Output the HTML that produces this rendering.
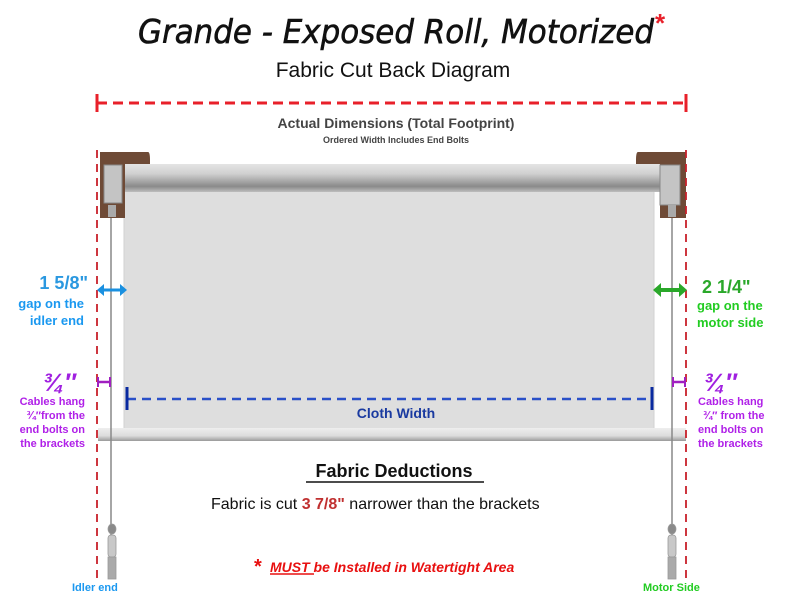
<!DOCTYPE html>
<html><head><meta charset="utf-8"><style>
html,body{margin:0;padding:0;background:#fff;}
svg{display:block;}
text{font-family:"Liberation Sans",Arial,sans-serif;}
</style></head><body>
<svg width="792" height="615" viewBox="0 0 792 615" xmlns="http://www.w3.org/2000/svg">
<defs>
<linearGradient id="roll" x1="0" y1="0" x2="0" y2="1">
<stop offset="0" stop-color="#e4e4e4"/><stop offset="0.35" stop-color="#d0d0d0"/><stop offset="0.8" stop-color="#8a8a8a"/><stop offset="1" stop-color="#bdbdbd"/>
</linearGradient>
<linearGradient id="bar" x1="0" y1="0" x2="0" y2="1">
<stop offset="0" stop-color="#eeeeee"/><stop offset="0.6" stop-color="#dcdcdc"/><stop offset="1" stop-color="#9a9a9a"/>
</linearGradient>
</defs>
<text x="396" y="43" text-anchor="middle" font-size="33" font-style="italic" fill="#111" stroke="#111" stroke-width="0.6" style="font-family:'DejaVu Sans',sans-serif" textLength="516" lengthAdjust="spacingAndGlyphs">Grande - Exposed Roll, Motorized</text>
<text x="655" y="32" font-size="26" fill="#e8202a" font-weight="bold">*</text>
<text x="393" y="77" text-anchor="middle" font-size="21" fill="#111">Fabric Cut Back Diagram</text>
<line x1="97" y1="103" x2="686" y2="103" stroke="#e8202a" stroke-width="3" stroke-dasharray="10,6"/>
<line x1="97" y1="94" x2="97" y2="112" stroke="#e8202a" stroke-width="3"/>
<line x1="686" y1="94" x2="686" y2="112" stroke="#e8202a" stroke-width="3"/>
<text x="396" y="128" text-anchor="middle" font-size="14" font-weight="bold" fill="#444">Actual Dimensions (Total Footprint)</text>
<text x="396" y="143" text-anchor="middle" font-size="9" font-weight="bold" fill="#444">Ordered Width Includes End Bolts</text>
<rect x="124" y="180" width="530" height="252" fill="#dedede"/>
<rect x="124" y="180" width="530" height="252" fill="none" stroke="#d2d2d2"/>
<rect x="118" y="164" width="546" height="28" fill="url(#roll)"/>
<rect x="98" y="428" width="588" height="13" fill="url(#bar)"/>
<line x1="111" y1="215" x2="111" y2="548" stroke="#888" stroke-width="1.5"/>
<line x1="672" y1="215" x2="672" y2="548" stroke="#888" stroke-width="1.5"/>
<g fill="#c8c8c8" stroke="#999" stroke-width="0.8">
<ellipse cx="112" cy="529" rx="4" ry="5" fill="#8a8a8a"/>
<rect x="108" y="535" width="8" height="22" rx="3"/>
<rect x="108" y="557" width="8" height="22" fill="#aaa"/>
<ellipse cx="672" cy="529" rx="4" ry="5" fill="#8a8a8a"/>
<rect x="668" y="535" width="8" height="22" rx="3"/>
<rect x="668" y="557" width="8" height="22" fill="#aaa"/>
</g>
<path d="M100 152 H148 Q150 152 150 160 V164 H125 V218 H100 Z" fill="#6e4a36"/>
<rect x="104" y="165" width="18" height="38" fill="#c4c4c4" stroke="#888"/>
<rect x="108" y="205" width="8" height="12" fill="#aaa"/>
<path d="M638 152 H686 V218 H660 V164 H636 V160 Q636 152 638 152 Z" fill="#6e4a36"/>
<rect x="660" y="165" width="20" height="40" fill="#c4c4c4" stroke="#888"/>
<rect x="668" y="205" width="8" height="12" fill="#aaa"/>
<line x1="97" y1="150" x2="97" y2="580" stroke="#c8202a" stroke-width="1.8" stroke-dasharray="8,6"/>
<line x1="686" y1="150" x2="686" y2="580" stroke="#c8202a" stroke-width="1.8" stroke-dasharray="8,6"/>
<line x1="100" y1="290" x2="124" y2="290" stroke="#1a90e0" stroke-width="3"/>
<path d="M97 290 l7 -6 v12 z M127 290 l-7 -6 v12 z" fill="#1a90e0"/>
<line x1="656" y1="290" x2="684" y2="290" stroke="#2aa82a" stroke-width="4"/>
<path d="M653 290 l8 -7 v14 z M687 290 l-8 -7 v14 z" fill="#2aa82a"/>
<line x1="98" y1="382" x2="110" y2="382" stroke="#a020c0" stroke-width="2.5"/>
<line x1="98" y1="377" x2="98" y2="387" stroke="#a020c0" stroke-width="2"/>
<line x1="110" y1="377" x2="110" y2="387" stroke="#a020c0" stroke-width="2"/>
<line x1="673" y1="382" x2="685" y2="382" stroke="#a020c0" stroke-width="2.5"/>
<line x1="673" y1="377" x2="673" y2="387" stroke="#a020c0" stroke-width="2"/>
<line x1="685" y1="377" x2="685" y2="387" stroke="#a020c0" stroke-width="2"/>
<line x1="127" y1="399" x2="652" y2="399" stroke="#2a50c8" stroke-width="2.5" stroke-dasharray="9,6"/>
<line x1="127" y1="387" x2="127" y2="410" stroke="#0a2aa0" stroke-width="3"/>
<line x1="652" y1="387" x2="652" y2="410" stroke="#0a2aa0" stroke-width="3"/>
<text x="396" y="418" text-anchor="middle" font-size="14" font-weight="bold" fill="#1a3aa0">Cloth Width</text>
<text x="88" y="289" text-anchor="end" font-size="18" font-weight="bold" fill="#2a98e0">1 5/8"</text>
<text x="84" y="308" text-anchor="end" font-size="13" font-weight="bold" fill="#1a98f0">gap on the</text>
<text x="84" y="325" text-anchor="end" font-size="13" font-weight="bold" fill="#1a98f0">idler end</text>
<text x="76" y="391" text-anchor="end" font-size="25" font-weight="bold" font-style="italic" fill="#a020e0">¾″</text>
<text x="85" y="405" text-anchor="end" font-size="11" font-weight="bold" fill="#b020e8">Cables hang</text>
<text x="85" y="419" text-anchor="end" font-size="11" font-weight="bold" fill="#b020e8">¾″from the</text>
<text x="85" y="433" text-anchor="end" font-size="11" font-weight="bold" fill="#b020e8">end bolts on</text>
<text x="85" y="447" text-anchor="end" font-size="11" font-weight="bold" fill="#b020e8">the brackets</text>
<text x="702" y="293" font-size="18" font-weight="bold" fill="#2aa82a">2 1/4"</text>
<text x="697" y="310" font-size="13" font-weight="bold" fill="#22cc22">gap on the</text>
<text x="697" y="327" font-size="13" font-weight="bold" fill="#22cc22">motor side</text>
<text x="704" y="391" font-size="25" font-weight="bold" font-style="italic" fill="#a020e0">¾″</text>
<text x="698" y="405" font-size="11" font-weight="bold" fill="#b020e8">Cables hang</text>
<text x="703" y="419" font-size="11" font-weight="bold" fill="#b020e8">¾″  from the</text>
<text x="698" y="433" font-size="11" font-weight="bold" fill="#b020e8">end bolts on</text>
<text x="698" y="447" font-size="11" font-weight="bold" fill="#b020e8">the brackets</text>
<text x="394" y="477" text-anchor="middle" font-size="18" font-weight="bold" fill="#111">Fabric Deductions</text>
<line x1="306" y1="482" x2="484" y2="482" stroke="#111" stroke-width="1.5"/>
<text x="211" y="509" font-size="16" fill="#111">Fabric is cut <tspan font-weight="bold" fill="#c03030">3 7/8"</tspan>  narrower than the brackets</text>
<text x="254" y="573" font-size="20" font-weight="bold" fill="#e81010">*</text>
<text x="270" y="572" font-size="14" font-weight="bold" font-style="italic" fill="#e81010">MUST be Installed in Watertight Area</text>
<line x1="270" y1="574" x2="314" y2="574" stroke="#e81010" stroke-width="1.5"/>
<text x="72" y="591" font-size="11" font-weight="bold" fill="#1a98f0">Idler end</text>
<text x="643" y="591" font-size="11" font-weight="bold" fill="#22cc22">Motor Side</text>
</svg>
</body></html>
